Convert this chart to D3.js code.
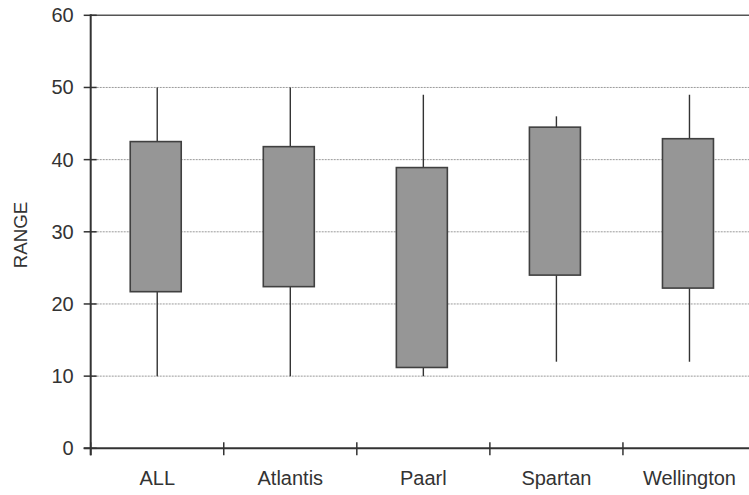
<!DOCTYPE html>
<html>
<head>
<meta charset="utf-8">
<script src="https://cdn.jsdelivr.net/npm/d3@7"></script>
<style>
  html, body { margin: 0; padding: 0; background: #fff; }
  svg { display: block; }
  text { font-family: "Liberation Sans", Arial, sans-serif; fill: #333; }
</style>
</head>
<body>
<svg id="chart" width="749" height="495"></svg>
<script>
const categories = ["ALL", "Atlantis", "Paarl", "Spartan", "Wellington"];
const lowValues  = [10, 10, 10, 12, 12];
const q1Values   = [21.7, 22.4, 11.2, 24.0, 22.2];
const q3Values   = [42.5, 41.8, 38.9, 44.5, 42.9];
const highValues = [50, 50, 49, 46, 49];
const yTicks = [0, 10, 20, 30, 40, 50, 60];
const yLabel = "RANGE";

const svg = d3.select("#chart");
const mLeft = 90.7, mRight = 756, mTop = 15.3, mBottom = 448.3;

const x = d3.scaleBand().domain(categories).range([mLeft, mRight]).padding(0);
const y = d3.scaleLinear().domain([0, 60]).range([mBottom, mTop]);

// gridlines
svg.append("g").selectAll("line").data(yTicks.filter(d => d > 0 && d < 60)).join("line")
  .attr("x1", mLeft).attr("x2", 749)
  .attr("y1", d => y(d)).attr("y2", d => y(d))
  .attr("stroke", "#9a9a9a").attr("stroke-width", 1).attr("stroke-dasharray", "2,1");

// top border
svg.append("line").attr("x1", mLeft).attr("x2", 749).attr("y1", y(60)).attr("y2", y(60))
  .attr("stroke", "#555").attr("stroke-width", 1.5);

const data = categories.map((c, i) => ({c, lo: lowValues[i], q1: q1Values[i], q3: q3Values[i], hi: highValues[i]}));
const cx = d => x(d.c) + x.bandwidth() / 2;

const g = svg.append("g");
// whiskers
g.selectAll("line.wh").data(data).join("line").attr("class", "wh")
  .attr("x1", cx).attr("x2", cx)
  .attr("y1", d => y(d.hi)).attr("y2", d => y(d.lo))
  .attr("stroke", "#333").attr("stroke-width", 1.4);
// boxes
g.selectAll("rect").data(data).join("rect")
  .attr("x", d => cx(d) - 27).attr("width", 51)
  .attr("y", d => y(d.q3)).attr("height", d => y(d.q1) - y(d.q3))
  .attr("fill", "#969696").attr("stroke", "#404040").attr("stroke-width", 1.6);

// y axis
const yAxis = svg.append("g").attr("transform", `translate(${mLeft},0)`)
  .call(d3.axisLeft(y).tickValues(yTicks).tickSize(0).tickPadding(17).tickFormat(d3.format("d")));
yAxis.select(".domain").remove();
yAxis.selectAll("text").attr("font-size", 20).style("fill", "#333");
svg.append("g").selectAll("line").data(yTicks).join("line")
  .attr("x1", mLeft - 7).attr("x2", mLeft + 6)
  .attr("y1", d => y(d)).attr("y2", d => y(d))
  .attr("stroke", "#333").attr("stroke-width", 1.5);
svg.append("line").attr("x1", mLeft).attr("x2", mLeft).attr("y1", mTop - 1).attr("y2", mBottom + 7)
  .attr("stroke", "#333").attr("stroke-width", 2);

// x axis
const xAxis = svg.append("g").attr("transform", `translate(0,${mBottom})`)
  .call(d3.axisBottom(x).tickSize(0).tickPadding(23));
xAxis.select(".domain").remove();
xAxis.selectAll("text").attr("font-size", 20).style("fill", "#333");
const bounds = categories.map(c => x(c)).concat([mRight]);
svg.append("g").selectAll("line").data(bounds).join("line")
  .attr("x1", d => d).attr("x2", d => d)
  .attr("y1", mBottom - 6).attr("y2", mBottom + 7)
  .attr("stroke", "#333").attr("stroke-width", 1.5);
svg.append("line").attr("x1", mLeft - 7).attr("x2", 749).attr("y1", mBottom).attr("y2", mBottom)
  .attr("stroke", "#333").attr("stroke-width", 2);

// y label
svg.append("text").attr("transform", "translate(27,235) rotate(-90)")
  .attr("text-anchor", "middle").attr("font-size", 18.7).text(yLabel);
</script>
</body>
</html>
